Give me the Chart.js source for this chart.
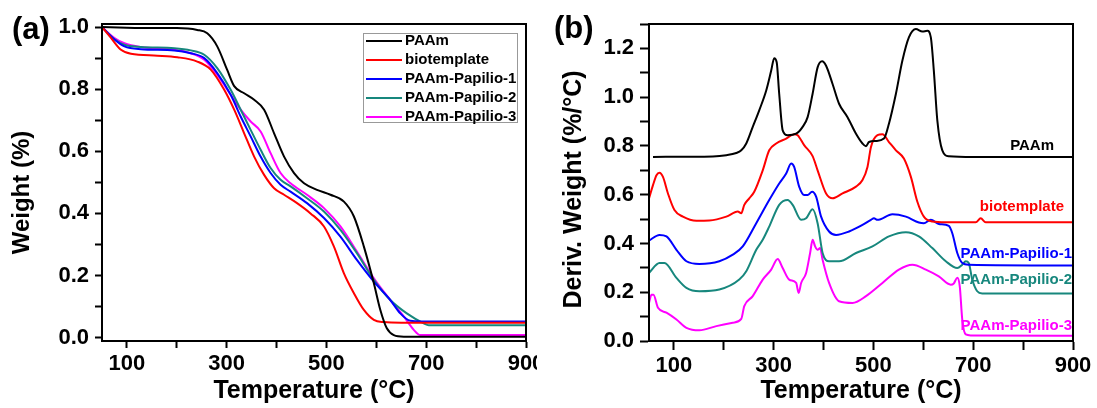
<!DOCTYPE html>
<html>
<head>
<meta charset="utf-8">
<script src="https://cdn.jsdelivr.net/npm/chart.js@4.4.1/dist/chart.umd.min.js"></script>
<style>
  body { margin: 0; background: #fff; width: 1097px; height: 408px; overflow: hidden; position: relative; font-family: 'Liberation Sans', Arial, sans-serif; }
  .panel { position: absolute; top: 0; height: 408px; overflow: hidden; }
  .panel canvas { display: block; }
  .tag { position: absolute; font-weight: bold; font-size: 31px; line-height: 1; color: #000; }
</style>
</head>
<body>
<div class="panel" style="left:0;width:537px"><canvas id="tgaChart" width="560" height="408"></canvas></div>
<div class="panel" style="left:548px;width:549px"><canvas id="dtgChart" width="549" height="408"></canvas></div>
<div class="tag" style="left:12px;top:13px">(a)</div>
<div class="tag" style="left:554px;top:12px">(b)</div>
<script>
const seriesNames = ['PAAm', 'biotemplate', 'PAAm-Papilio-1', 'PAAm-Papilio-2', 'PAAm-Papilio-3'];
const seriesColors = ['#000000', '#ff0000', '#0000ff', '#17877d', '#ff00ff'];

// tick positions / labels
const tempTicks = [100, 200, 300, 400, 500, 600, 700, 800, 900];
const tempLabels = [100, 300, 500, 700, 900];
const weightTicks = [0, 0.1, 0.2, 0.3, 0.4, 0.5, 0.6, 0.7, 0.8, 0.9, 1.0];
const weightLabels = [0, 0.2, 0.4, 0.6, 0.8, 1.0];
const derivTicks = [0, 0.1, 0.2, 0.3, 0.4, 0.5, 0.6, 0.7, 0.8, 0.9, 1.0, 1.1, 1.2, 1.3];
const derivLabels = [0, 0.2, 0.4, 0.6, 0.8, 1.0, 1.2];

// (a) TGA weight curves
const tgaPaamT = [50, 100, 150, 200, 241, 261, 281, 301, 315, 335, 355, 375, 395, 415, 435, 455, 481, 508, 535, 555, 575, 595, 608, 621, 635, 655, 700, 800, 900];
const tgaPaamW = [1.0, 0.998, 0.997, 0.997, 0.991, 0.98, 0.938, 0.862, 0.81, 0.787, 0.766, 0.734, 0.658, 0.583, 0.53, 0.497, 0.476, 0.46, 0.438, 0.39, 0.293, 0.175, 0.089, 0.03, 0.008, 0.003, 0.003, 0.003, 0.003];
const tgaBioT = [50, 68, 88, 108, 161, 201, 241, 268, 295, 315, 335, 355, 375, 395, 415, 441, 468, 495, 515, 535, 555, 575, 595, 615, 650, 900];
const tgaBioW = [1.0, 0.965, 0.927, 0.914, 0.908, 0.903, 0.889, 0.863, 0.798, 0.734, 0.658, 0.583, 0.524, 0.481, 0.46, 0.433, 0.40, 0.358, 0.293, 0.207, 0.143, 0.089, 0.057, 0.05, 0.048, 0.048];
const tgaP1T = [50, 75, 95, 128, 195, 228, 255, 281, 308, 328, 348, 368, 388, 408, 428, 461, 495, 528, 561, 595, 628, 648, 668, 690, 900];
const tgaP1W = [1.0, 0.96, 0.938, 0.929, 0.925, 0.916, 0.90, 0.852, 0.782, 0.712, 0.648, 0.583, 0.53, 0.492, 0.47, 0.433, 0.385, 0.325, 0.25, 0.18, 0.121, 0.078, 0.054, 0.052, 0.052];
const tgaP2T = [50, 75, 95, 128, 195, 228, 255, 281, 308, 328, 348, 368, 388, 408, 428, 461, 495, 528, 561, 595, 628, 661, 695, 705, 900];
const tgaP2W = [1.0, 0.961, 0.943, 0.936, 0.932, 0.925, 0.911, 0.868, 0.798, 0.734, 0.669, 0.605, 0.546, 0.508, 0.487, 0.449, 0.406, 0.347, 0.272, 0.186, 0.121, 0.078, 0.046, 0.04, 0.04];
const tgaP3T = [50, 75, 95, 128, 195, 228, 255, 281, 308, 328, 348, 368, 388, 408, 428, 461, 495, 528, 561, 595, 628, 655, 675, 688, 900];
const tgaP3W = [1.0, 0.965, 0.948, 0.936, 0.927, 0.916, 0.895, 0.846, 0.782, 0.734, 0.696, 0.664, 0.594, 0.53, 0.497, 0.46, 0.417, 0.358, 0.277, 0.191, 0.121, 0.068, 0.025, 0.008, 0.008];

// (b) DTG derivative curves (stacked offsets as in the figure)
const dtgPaamT = [58, 178, 205, 225, 235, 245, 258, 271, 285, 295, 301, 306, 311, 318, 328, 345, 358, 368, 378, 388, 397, 405, 418, 431, 448, 465, 478, 485, 491, 505, 521, 531, 545, 558, 571, 585, 598, 608, 615, 621, 628, 638, 651, 700, 900];
const dtgPaamV = [0.755, 0.757, 0.762, 0.771, 0.782, 0.81, 0.878, 0.946, 1.027, 1.109, 1.16, 1.143, 1.014, 0.864, 0.844, 0.85, 0.878, 0.918, 1.014, 1.122, 1.147, 1.129, 1.054, 0.973, 0.918, 0.85, 0.81, 0.799, 0.816, 0.82, 0.83, 0.891, 1.014, 1.15, 1.245, 1.279, 1.269, 1.272, 1.245, 1.109, 0.905, 0.782, 0.758, 0.755, 0.755];
const dtgBioT = [50, 58, 65, 71, 78, 88, 101, 118, 145, 171, 205, 228, 235, 241, 251, 261, 278, 291, 305, 325, 341, 348, 361, 378, 388, 405, 418, 438, 465, 478, 488, 495, 508, 518, 531, 545, 561, 575, 588, 601, 618, 645, 705, 715, 725, 900];
const dtgBioV = [0.585, 0.639, 0.68, 0.69, 0.673, 0.605, 0.537, 0.51, 0.493, 0.494, 0.51, 0.531, 0.524, 0.558, 0.585, 0.612, 0.70, 0.782, 0.81, 0.83, 0.848, 0.844, 0.803, 0.758, 0.70, 0.605, 0.585, 0.605, 0.633, 0.66, 0.714, 0.796, 0.844, 0.848, 0.816, 0.782, 0.748, 0.673, 0.571, 0.51, 0.49, 0.487, 0.487, 0.503, 0.487, 0.487];
const dtgP1T = [50, 71, 85, 105, 125, 151, 191, 218, 238, 265, 291, 311, 325, 335, 341, 351, 361, 368, 377, 385, 395, 411, 425, 451, 478, 495, 501, 508, 538, 565, 591, 601, 615, 631, 651, 658, 668, 678, 691, 900];
const dtgP1V = [0.412, 0.435, 0.429, 0.374, 0.327, 0.316, 0.327, 0.354, 0.388, 0.483, 0.578, 0.646, 0.687, 0.728, 0.714, 0.633, 0.599, 0.599, 0.612, 0.592, 0.51, 0.449, 0.435, 0.449, 0.476, 0.497, 0.503, 0.497, 0.52, 0.51, 0.486, 0.483, 0.497, 0.48, 0.472, 0.442, 0.361, 0.32, 0.313, 0.31];
const dtgP2T = [50, 71, 81, 105, 125, 151, 191, 231, 245, 265, 278, 291, 311, 328, 338, 355, 365, 378, 388, 398, 411, 431, 465, 498, 531, 565, 591, 618, 645, 668, 678, 685, 691, 698, 708, 718, 900];
const dtgP2V = [0.279, 0.32, 0.32, 0.259, 0.218, 0.204, 0.211, 0.252, 0.286, 0.374, 0.415, 0.469, 0.558, 0.578, 0.558, 0.497, 0.503, 0.54, 0.483, 0.361, 0.327, 0.327, 0.361, 0.388, 0.429, 0.446, 0.429, 0.381, 0.327, 0.299, 0.313, 0.327, 0.32, 0.252, 0.204, 0.195, 0.195];
const dtgP3T = [50, 55, 59, 68, 85, 105, 125, 151, 185, 218, 235, 241, 258, 278, 295, 308, 318, 331, 345, 350, 355, 365, 373, 378, 383, 388, 393, 398, 411, 431, 458, 485, 518, 551, 578, 605, 631, 655, 661, 668, 673, 678, 685, 695, 900];
const dtgP3V = [0.156, 0.19, 0.19, 0.136, 0.116, 0.088, 0.054, 0.044, 0.061, 0.075, 0.091, 0.143, 0.184, 0.252, 0.293, 0.336, 0.299, 0.252, 0.238, 0.197, 0.238, 0.279, 0.361, 0.415, 0.388, 0.374, 0.381, 0.333, 0.238, 0.163, 0.156, 0.184, 0.238, 0.293, 0.313, 0.293, 0.265, 0.231, 0.236, 0.259, 0.224, 0.088, 0.027, 0.023, 0.022];

const FONT = "'Liberation Sans', Arial, sans-serif";
Chart.defaults.font.family = FONT;
Chart.defaults.color = '#000';

const framePlugin = {
  id: 'frame',
  afterDraw(chart) {
    const { ctx, chartArea: a } = chart;
    ctx.save();
    ctx.strokeStyle = '#000';
    ctx.lineWidth = 2;
    ctx.strokeRect(a.left, a.top, a.right - a.left, a.bottom - a.top);
    ctx.restore();
  }
};

const boxLegend = {
  id: 'boxLegend',
  afterDraw(chart, args, opts) {
    if (!opts || !opts.display) return;
    const { ctx } = chart;
    ctx.save();
    ctx.fillStyle = '#fff';
    ctx.fillRect(opts.left, opts.top, opts.width, opts.height);
    ctx.strokeStyle = '#999';
    ctx.lineWidth = 1;
    ctx.strokeRect(opts.left + 0.5, opts.top + 0.5, opts.width, opts.height);
    ctx.font = `bold 15px ${FONT}`;
    ctx.textBaseline = 'middle';
    chart.data.datasets.forEach((ds, i) => {
      const y = opts.top + opts.firstRow + i * opts.rowGap;
      ctx.strokeStyle = ds.borderColor;
      ctx.lineWidth = 2;
      ctx.beginPath();
      ctx.moveTo(opts.left + 3, y);
      ctx.lineTo(opts.left + 39, y);
      ctx.stroke();
      ctx.fillStyle = '#000';
      ctx.fillText(ds.label, opts.left + 42, y);
    });
    ctx.restore();
  }
};

const curveLabels = {
  id: 'curveLabels',
  afterDatasetsDraw(chart, args, opts) {
    if (!opts || !opts.anchors) return;
    const { ctx, scales: { x, y } } = chart;
    ctx.save();
    ctx.font = `bold 15px ${FONT}`;
    ctx.textAlign = 'right';
    ctx.textBaseline = 'middle';
    chart.data.datasets.forEach((ds, i) => {
      const at = opts.anchors[i];
      ctx.fillStyle = ds.borderColor;
      ctx.fillText(ds.label, x.getPixelForValue(at[0]), y.getPixelForValue(at[1]));
    });
    ctx.restore();
  }
};

function toPoints(xs, ys) {
  return xs.map((x, i) => ({ x, y: ys[i] }));
}

function createDataset(i, xs, ys) {
  return {
    label: seriesNames[i],
    data: toPoints(xs, ys),
    borderColor: seriesColors[i],
    backgroundColor: seriesColors[i],
    borderWidth: 2,
    pointRadius: 0,
    cubicInterpolationMode: 'monotone',
    fill: false
  };
}

function hasValue(list, v) {
  return list.some((t) => Math.abs(t - v) < 1e-6);
}

function buildOptions(cfg) {
  const tickFont = { size: 22, weight: 'bold' };
  return {
    responsive: false,
    animation: false,
    layout: { padding: { left: 0, right: cfg.padRight, top: 24, bottom: 0 } },
    plugins: {
      legend: { display: false },
      tooltip: { enabled: false },
      boxLegend: cfg.legend || { display: false },
      curveLabels: cfg.labels || {}
    },
    scales: {
      x: {
        type: 'linear',
        min: 50,
        max: 900,
        afterBuildTicks: (scale) => { scale.ticks = tempTicks.map((v) => ({ value: v })); },
        afterFit: (scale) => { scale.height = 67; },
        grid: { drawOnChartArea: false, drawTicks: true, tickLength: cfg.tickLength, tickWidth: 2, tickColor: '#000' },
        border: { display: true, color: '#000', width: 2 },
        ticks: {
          font: tickFont,
          color: '#000',
          padding: 3,
          autoSkip: false,
          maxRotation: 0,
          callback: (v) => (hasValue(tempLabels, v) ? String(v) : '')
        },
        title: { display: true, text: 'Temperature (°C)', font: { size: 25, weight: 'bold' }, color: '#000', padding: { top: 4, bottom: 2 } }
      },
      y: {
        type: 'linear',
        min: cfg.yMin,
        max: cfg.yMax,
        afterBuildTicks: (scale) => { scale.ticks = cfg.yTicks.map((v) => ({ value: v })); },
        afterFit: (scale) => { scale.width = cfg.yWidth; },
        grid: { drawOnChartArea: false, drawTicks: true, tickLength: cfg.tickLength, tickWidth: 2, tickColor: '#000' },
        border: { display: true, color: '#000', width: 2 },
        ticks: {
          font: tickFont,
          color: '#000',
          padding: 6,
          autoSkip: false,
          callback: (v) => (hasValue(cfg.yLabels, v) ? v.toFixed(1) : '')
        },
        title: { display: true, text: cfg.yTitle, font: { size: cfg.yTitleSize, weight: 'bold' }, color: '#000', padding: { top: cfg.yTitlePad, bottom: 0 } }
      }
    }
  };
}

new Chart(document.getElementById('tgaChart'), {
  type: 'line',
  data: {
    datasets: [
      createDataset(0, tgaPaamT, tgaPaamW),
      createDataset(1, tgaBioT, tgaBioW),
      createDataset(2, tgaP1T, tgaP1W),
      createDataset(3, tgaP2T, tgaP2W),
      createDataset(4, tgaP3T, tgaP3W)
    ]
  },
  options: buildOptions({
    padRight: 34,
    yWidth: 102,
    yMin: -0.011,
    yMax: 1.01,
    yTicks: weightTicks,
    yLabels: weightLabels,
    // trailing spaces nudge the rotated title down, as in the figure
    yTitle: 'Weight (%)\u00a0\u00a0\u00a0',
    yTitleSize: 24,
    yTitlePad: 8,
    tickLength: 7,
    legend: { display: true, left: 363, top: 33, width: 154, height: 89, firstRow: 8, rowGap: 19 }
  }),
  plugins: [framePlugin, boxLegend]
});

new Chart(document.getElementById('dtgChart'), {
  type: 'line',
  data: {
    datasets: [
      createDataset(0, dtgPaamT, dtgPaamV),
      createDataset(1, dtgBioT, dtgBioV),
      createDataset(2, dtgP1T, dtgP1V),
      createDataset(3, dtgP2T, dtgP2V),
      createDataset(4, dtgP3T, dtgP3V)
    ]
  },
  options: buildOptions({
    padRight: 24,
    yWidth: 101,
    yMin: 0,
    yMax: 1.3,
    yTicks: derivTicks,
    yLabels: derivLabels,
    yTitle: 'Deriv. Weight (%/°C)\u00a0\u00a0',
    yTitleSize: 25,
    yTitlePad: 11,
    tickLength: 9,
    labels: { anchors: [[862, 0.80], [882, 0.55], [898, 0.358], [898, 0.25], [898, 0.062]] }
  }),
  plugins: [framePlugin, curveLabels]
});
</script>
</body>
</html>
